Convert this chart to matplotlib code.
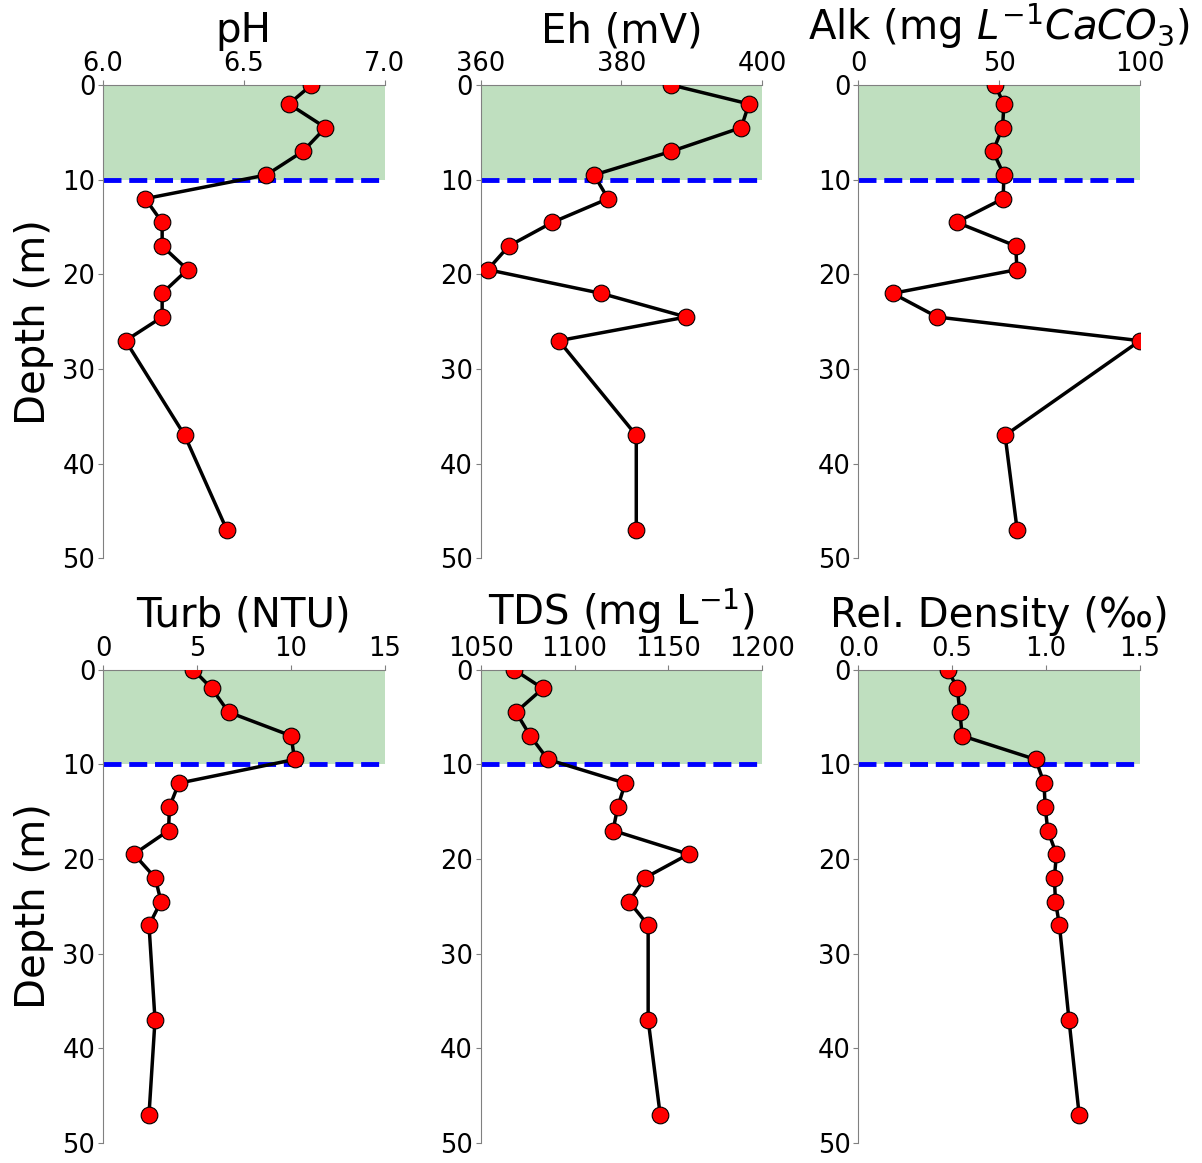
import numpy as np
import matplotlib
matplotlib.use('Agg')
import matplotlib.pyplot as plt

# depth of each sample (m)
depth = [0, 2, 4.5, 7, 9.5, 12, 14.5, 17, 19.5, 22, 24.5, 27, 37, 47]

ph = [6.74, 6.66, 6.79, 6.71, 6.58, 6.15, 6.21, 6.21, 6.30, 6.21, 6.21, 6.08, 6.29, 6.44]
eh = [387.1, 398.1, 397.0, 387.1, 376.1, 378.1, 370.2, 364.0, 361.0, 377.1, 389.2, 371.1, 382.1, 382.1]
alk = [48.5, 51.7, 51.2, 47.8, 51.7, 51.4, 34.9, 55.9, 56.3, 12.2, 28.0, 100.0, 52.1, 56.4]
turb = [4.80, 5.79, 6.69, 10.02, 10.2, 4.04, 3.54, 3.49, 1.65, 2.78, 3.09, 2.45, 2.77, 2.45]
tds = [1067.7, 1083.1, 1068.8, 1076.4, 1085.8, 1127.0, 1123.0, 1120.5, 1160.7, 1137.5, 1129.0, 1139.2, 1139.2, 1145.6]
rel_density = [0.477, 0.527, 0.541, 0.553, 0.945, 0.989, 0.995, 1.009, 1.055, 1.044, 1.05, 1.071, 1.122, 1.176]

titles = ['pH', 'Eh (mV)', r'Alk (mg $L^{-1}CaCO_3$)',
          'Turb (NTU)', r'TDS (mg L$^{-1}$)', 'Rel. Density (‰)']
xlims = [(6.0, 7.0), (360, 400), (0, 100), (0, 15), (1050, 1200), (0.0, 1.5)]
xticks = [[6.0, 6.5, 7.0], [360, 380, 400], [0, 50, 100],
          [0, 5, 10, 15], [1050, 1100, 1150, 1200], [0.0, 0.5, 1.0, 1.5]]
xticklabels = [['6.0', '6.5', '7.0'], ['360', '380', '400'], ['0', '50', '100'],
               ['0', '5', '10', '15'], ['1050', '1100', '1150', '1200'],
               ['0.0', '0.5', '1.0', '1.5']]
series = [ph, eh, alk, turb, tds, rel_density]

mixed_depth = 10  # bottom of mixed layer (m)

fig, axes = plt.subplots(2, 3, figsize=(12.02, 11.63), dpi=100)
fig.subplots_adjust(left=0.0857, right=0.9484, top=0.9269, bottom=0.0172,
                    wspace=0.341, hspace=0.2346)

for i, ax in enumerate(axes.flat):
    ax.axhspan(0, mixed_depth, color='green', alpha=0.25, lw=0)
    ax.axhline(mixed_depth, color='blue', ls='--', lw=3.5)
    ax.plot(series[i], depth, color='black', lw=2.5, marker='o',
            markersize=12, markerfacecolor='red', markeredgecolor='black',
            markeredgewidth=0.8, zorder=3)

    ax.set_xlim(*xlims[i])
    ax.set_ylim(50, 0)
    ax.xaxis.tick_top()
    ax.set_xticks(xticks[i])
    ax.set_xticklabels(xticklabels[i])
    ax.set_yticks([0, 10, 20, 30, 40, 50])
    ax.tick_params(labelsize=18.5, colors='gray', labelcolor='black', pad=2)
    ax.set_title(titles[i], fontsize=29, pad=4)

    for side in ['right', 'bottom']:
        ax.spines[side].set_visible(False)
    for side in ['left', 'top']:
        ax.spines[side].set_color('gray')

    if i % 3 == 0:
        ax.set_ylabel('Depth (m)', fontsize=29, labelpad=6)

plt.savefig('out.png', dpi=100)
